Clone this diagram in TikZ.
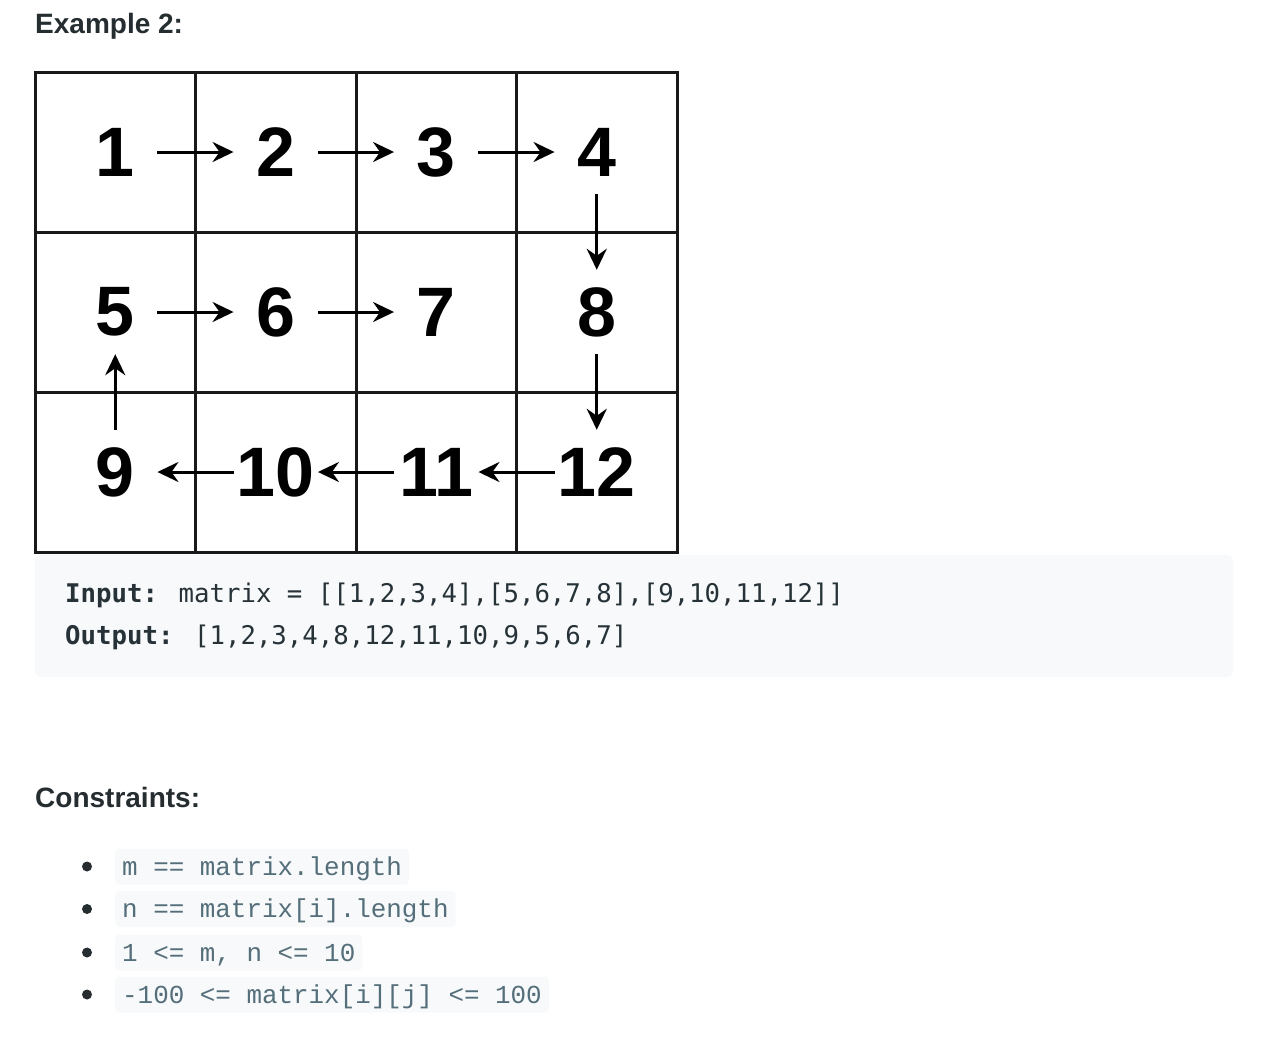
\documentclass[tikz,border=0pt]{standalone}
\usepackage{fontspec}
\setmainfont{Liberation Sans}
\newfontfamily\codefont{DejaVu Sans Mono}
\newfontfamily\spanfont{Liberation Mono}
\usetikzlibrary{arrows.meta}
\definecolor{headink}{HTML}{262D31}
\definecolor{codebg}{HTML}{F7F9FA}
\definecolor{codeink}{HTML}{263238}
\definecolor{spanink}{HTML}{546E7A}

\begin{document}
\begin{tikzpicture}[x=1pt, y=-1pt,
  cell/.style={line width=3pt, draw=black!90},
  num/.style={minimum width=84pt, minimum height=84pt, inner sep=0pt, font=\fontsize{70}{70}\selectfont\bfseries},
  flow/.style={line width=3pt, -{Stealth[length=21pt, width=20pt, inset=7pt]}},
  heading/.style={anchor=base west, inner sep=0pt, text=headink, font=\fontsize{28}{28}\selectfont\bfseries},
  codeline/.style={anchor=base west, inner sep=0pt, text=codeink, font=\codefont\fontsize{25.7}{25.7}\selectfont},
  codespan/.style={anchor=west, fill=codebg, rounded corners=4pt, inner xsep=7pt, inner ysep=0pt, minimum height=36pt, text height=19pt, text depth=2pt, text=spanink, font=\spanfont\fontsize{25.9}{25.9}\selectfont}]
\useasboundingbox (0,0) rectangle (1268,1042);

% heading
\node[heading] (ex) at (35,33) {Example 2:};

% spiral matrix grid
\draw[cell] (35,72) rectangle (677,552);
\foreach \c in {1,2,3} \draw[cell] (35+160.5*\c,72) -- (35+160.5*\c,552);
\foreach \r in {1,2} \draw[cell] (35,72+160*\r) -- (677,72+160*\r);

\foreach \v [count=\k from 0] in {1,...,12}
  \node[num] (n\v) at ({115.25+160.5*mod(\k,4)},{152+160*int(\k/4)}) {\v};

\foreach \a/\b in {1/2,2/3,3/4,4/8,8/12,12/11,11/10,10/9,9/5,5/6,6/7}
  \draw[flow] (n\a) -- (n\b);

% input / output block
\fill[codebg, rounded corners=5pt] (35,555) rectangle (1233,677);
\node[codeline] (input) at (65,602) {\textbf{Input:} matrix = [[1,2,3,4],[5,6,7,8],[9,10,11,12]]};
\node[codeline] (output) at (65,644) {\textbf{Output:} [1,2,3,4,8,12,11,10,9,5,6,7]};

% constraints
\node[heading] (cons) at (35,807) {Constraints:};
\foreach \y/\txt [count=\i] in {866.5/{m == matrix.length}, 909/{n == matrix[i].length}, 952.5/{1 <= m, n <= 10}, 994.5/{-100 <= matrix[i][j] <= 100}} {
  \fill[headink] (87,\y) circle (5pt);
  \node[codespan] (c\i) at (115,\y) {\txt};
}

\end{tikzpicture}
\end{document}
